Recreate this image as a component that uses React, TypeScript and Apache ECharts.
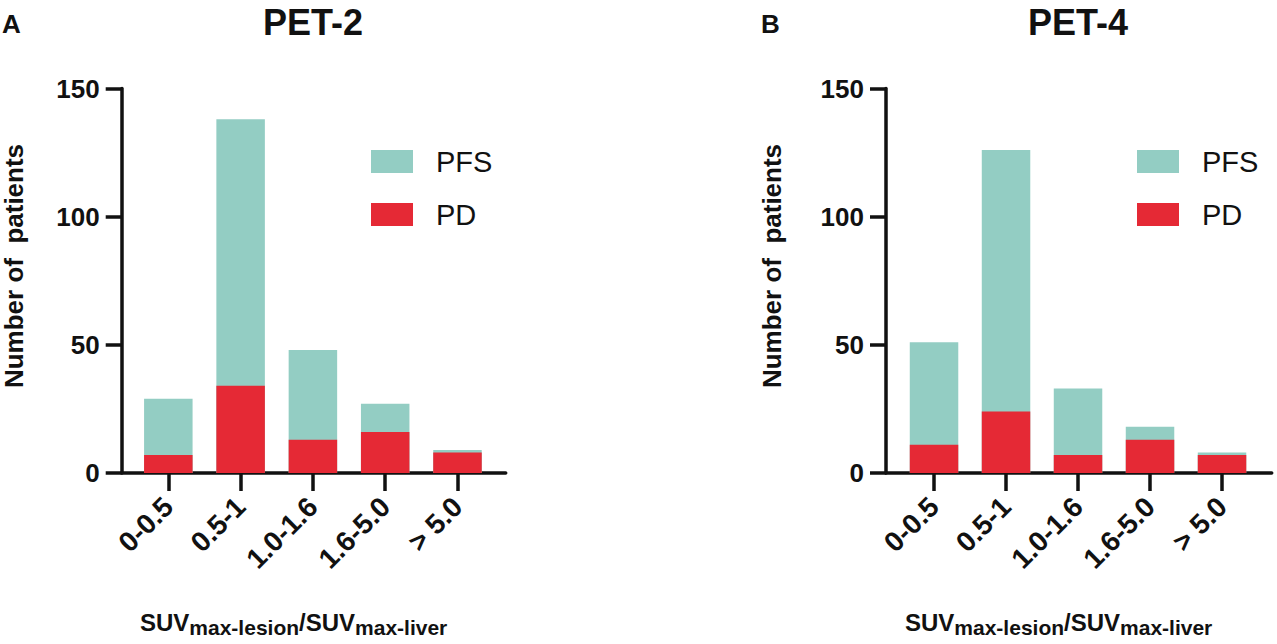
import React, { useEffect, useRef } from 'react';
import * as echarts from 'echarts';

// ---- data ----
const categories = ['0-0.5', '0.5-1', '1.0-1.6', '1.6-5.0', '> 5.0'];
const yTicks = [0, 50, 100, 150];
const pet2PD = [7, 34, 13, 16, 8];
const pet2PFS = [22, 104, 35, 11, 1];
const pet4PD = [11, 24, 7, 13, 7];
const pet4PFS = [40, 102, 26, 5, 1];
const panelTitles = ['PET-2', 'PET-4'];
const panelLetters = ['A', 'B'];
const seriesNames = ['PFS', 'PD'];
const yAxisTitle = 'Number of  patients';

const TEAL = '#93CDC3';
const RED = '#E52935';
const INK = '#111111';
const FONT = '"Liberation Sans", Arial, Helvetica, sans-serif';

// layout of the two panels
// main grid: value x-axis (bars + long axis line); tick grid: category axis for ticks and labels
const panels = [
  { left: 121.7, width: 384, xMin: -0.645, xMax: 4.667, tickLeft: 132.15, tickWidth: 361.5, nameX: 14, legendLeft: 371, titleX: 313, letterX: 2, subX: 140, pd: pet2PD, pfs: pet2PFS },
  { left: 886, width: 385.7, xMin: -0.667, xMax: 4.69, tickLeft: 898, tickWidth: 360, nameX: 772, legendLeft: 1137, titleX: 1078, letterX: 761, subX: 905, pd: pet4PD, pfs: pet4PFS },
];
const GRID_TOP = 88.5;
const GRID_H = 384.5;
const NAME_Y = 266;

function buildOption() {
  const idx = categories.map((_, i) => i);
  const grid: any[] = [];
  const xAxis: any[] = [];
  const yAxis: any[] = [];
  const series: any[] = [];
  const legend: any[] = [];
  const graphic: any[] = [];

  panels.forEach((p, k) => {
    grid.push({ left: p.left, top: GRID_TOP, width: p.width, height: GRID_H, containLabel: false });
    xAxis.push({
      type: 'value',
      gridIndex: k,
      min: p.xMin,
      max: p.xMax,
      splitLine: { show: false },
      axisLine: { show: true, onZero: false, lineStyle: { color: INK, width: 3.5 } },
      axisTick: { show: false },
      axisLabel: { show: false },
    });
    yAxis.push({
      type: 'value',
      gridIndex: k,
      min: yTicks[0],
      max: yTicks[yTicks.length - 1],
      interval: yTicks[1] - yTicks[0],
      splitLine: { show: false },
      axisLine: { show: true, onZero: false, lineStyle: { color: INK, width: 3.5 } },
      axisTick: { show: true, inside: false, length: 16, lineStyle: { color: INK, width: 3.5 } },
      axisLabel: { margin: 22, fontSize: 26, fontWeight: 'bold', fontFamily: FONT, color: INK },
    });
    series.push({
      type: 'bar',
      name: seriesNames[0],
      xAxisIndex: k,
      yAxisIndex: k,
      barWidth: 48.5,
      barGap: '-100%',
      itemStyle: { color: TEAL },
      data: idx.map((i) => [i, p.pd[i] + p.pfs[i]]),
    });
    series.push({
      type: 'bar',
      name: seriesNames[1],
      xAxisIndex: k,
      yAxisIndex: k,
      barWidth: 48.5,
      barGap: '-100%',
      itemStyle: { color: RED },
      data: idx.map((i) => [i, p.pd[i]]),
    });
    legend.push({
      left: p.legendLeft,
      top: 146.5,
      orient: 'vertical',
      padding: 0,
      data: seriesNames,
      icon: 'rect',
      itemWidth: 42,
      itemHeight: 23,
      itemGap: 23,
      selectedMode: false,
      textStyle: { fontSize: 29, color: INK, fontFamily: FONT, lineHeight: 30, padding: [0, 0, 0, 18] },
    });
    graphic.push({
      type: 'text',
      x: p.nameX,
      y: NAME_Y,
      rotation: Math.PI / 2,
      style: { text: yAxisTitle, fontSize: 26, lineHeight: 24, fontWeight: 'bold', fontFamily: FONT, fill: INK, textAlign: 'center', textVerticalAlign: 'middle' },
    });
    graphic.push({
      type: 'text',
      x: p.titleX,
      y: 22,
      style: { text: panelTitles[k], fontSize: 36, fontWeight: 'bold', fontFamily: FONT, fill: INK, textAlign: 'center', textVerticalAlign: 'middle' },
    });
    graphic.push({
      type: 'text',
      x: p.letterX,
      y: 24,
      style: { text: panelLetters[k], fontSize: 26, fontWeight: 'bold', fontFamily: FONT, fill: INK, textAlign: 'left', textVerticalAlign: 'middle' },
    });
    graphic.push({
      type: 'text',
      x: p.subX,
      y: 610,
      style: {
        text: '{b|SUV}{s|max-lesion}{b|/SUV}{s|max-liver}',
        fill: INK,
        rich: {
          b: { fontSize: 24, fontWeight: 'bold', fontFamily: FONT, fill: INK, verticalAlign: 'top' },
          s: { fontSize: 21, fontWeight: 'bold', fontFamily: FONT, fill: INK, verticalAlign: 'top', padding: [7, 0, 0, 0] },
        },
      },
    });
  });

  // tick grids (category axes carrying ticks + labels)
  panels.forEach((p, k) => {
    const g = panels.length + k;
    grid.push({ left: p.tickLeft, top: GRID_TOP, width: p.tickWidth, height: GRID_H, containLabel: false });
    xAxis.push({
      type: 'category',
      gridIndex: g,
      data: categories,
      boundaryGap: true,
      axisLine: { show: false },
      splitLine: { show: false },
      axisTick: { show: true, alignWithLabel: true, interval: 0, inside: false, length: 18, lineStyle: { color: INK, width: 3.5 } },
      axisLabel: {
        interval: 0,
        rotate: 45,
        margin: 29,
        fontSize: 28,
        fontWeight: 'bold',
        fontFamily: FONT,
        color: INK,
      },
    });
    yAxis.push({ type: 'value', gridIndex: g, show: false, min: 0, max: 1 });
  });

  return {
    animation: false,
    backgroundColor: '#ffffff',
    grid,
    xAxis,
    yAxis,
    series,
    legend,
    graphic,
  };
}

export default function App() {
  const ref = useRef<HTMLDivElement>(null);
  useEffect(() => {
    document.body.style.margin = '0';
    const chart = echarts.init(ref.current!, undefined, { renderer: 'svg' });
    chart.setOption(buildOption() as any);
    return () => chart.dispose();
  }, []);
  return <div ref={ref} style={{ position: 'fixed', left: 0, top: 0, width: 1277, height: 644, background: '#fff' }} />;
}
